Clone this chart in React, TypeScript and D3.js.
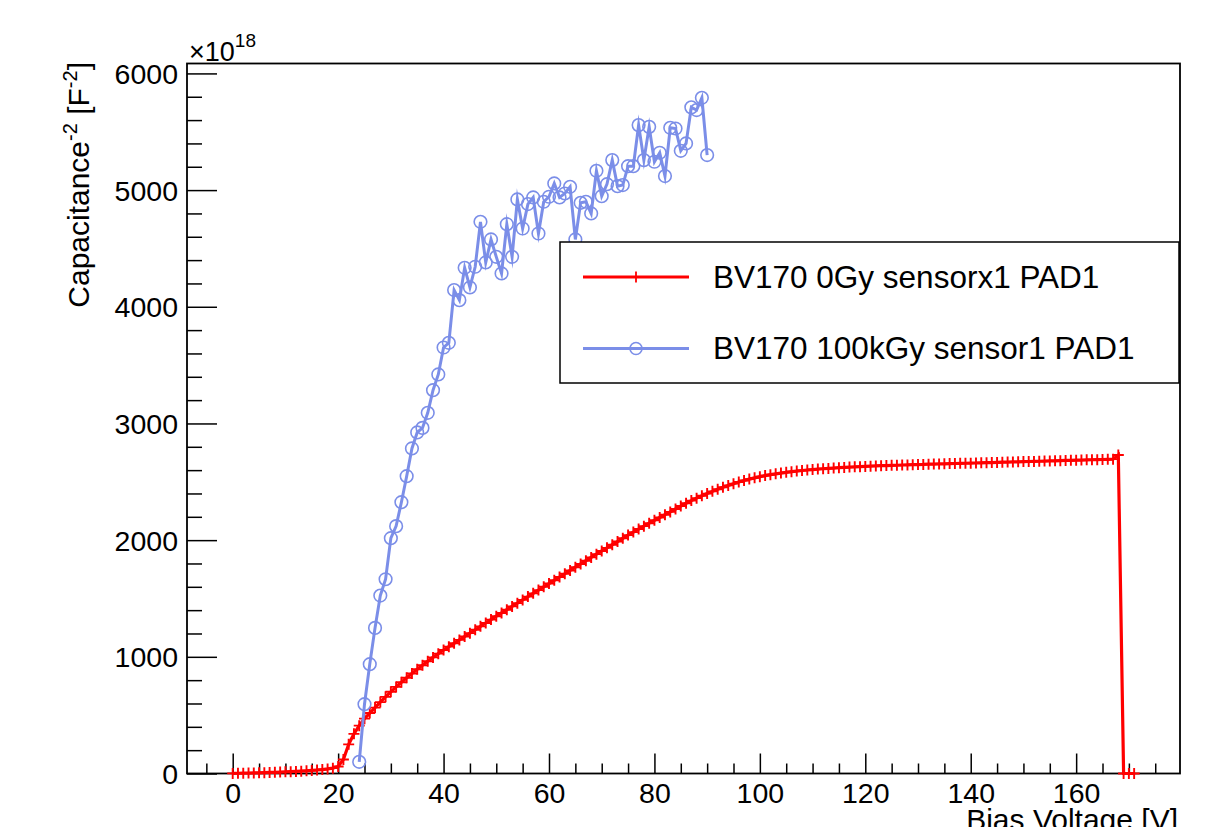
import React, { useEffect, useRef } from 'react';
import * as d3 from 'd3';

// red series: BV170 0Gy sensorx1 PAD1 (1 V steps)
const redVoltage = [
  0, 1, 2, 3, 4, 5, 6, 7, 8, 9, 10, 11, 12, 13, 14, 15, 16, 17, 18, 19,
  20, 21, 22, 23, 24, 25, 26, 27, 28, 29, 30, 31, 32, 33, 34, 35, 36, 37, 38, 39,
  40, 41, 42, 43, 44, 45, 46, 47, 48, 49, 50, 51, 52, 53, 54, 55, 56, 57, 58, 59,
  60, 61, 62, 63, 64, 65, 66, 67, 68, 69, 70, 71, 72, 73, 74, 75, 76, 77, 78, 79,
  80, 81, 82, 83, 84, 85, 86, 87, 88, 89, 90, 91, 92, 93, 94, 95, 96, 97, 98, 99,
  100, 101, 102, 103, 104, 105, 106, 107, 108, 109, 110, 111, 112, 113, 114, 115, 116, 117, 118, 119,
  120, 121, 122, 123, 124, 125, 126, 127, 128, 129, 130, 131, 132, 133, 134, 135, 136, 137, 138, 139,
  140, 141, 142, 143, 144, 145, 146, 147, 148, 149, 150, 151, 152, 153, 154, 155, 156, 157, 158, 159,
  160, 161, 162, 163, 164, 165, 166, 167, 168, 169, 170, 171,
];
const redValues = [
  1, 2, 3, 4, 5, 6, 7, 9, 10, 12, 14, 16, 18, 20, 23, 26, 30, 34, 39, 46,
  60, 120, 250, 340, 410, 470, 518, 565, 612, 657, 700, 742, 782, 820, 857, 893, 928, 962, 995, 1027,
  1058, 1087, 1116, 1145, 1174, 1203, 1232, 1261, 1290, 1319, 1348, 1376, 1404, 1432, 1460, 1488, 1516, 1544, 1572, 1600,
  1628, 1656, 1684, 1712, 1740, 1768, 1796, 1824, 1852, 1880, 1907, 1934, 1961, 1988, 2016, 2043, 2069, 2095, 2120, 2145,
  2170, 2194, 2218, 2242, 2267, 2292, 2316, 2339, 2360, 2380, 2399, 2418, 2436, 2453, 2469, 2484, 2498, 2511, 2523, 2534,
  2544, 2553, 2561, 2568, 2575, 2581, 2587, 2592, 2597, 2601, 2605, 2609, 2612, 2615, 2618, 2621, 2623, 2626, 2628, 2630,
  2632, 2634, 2636, 2638, 2639, 2641, 2642, 2644, 2645, 2647, 2648, 2649, 2651, 2652, 2653, 2654, 2656, 2657, 2658, 2659,
  2660, 2661, 2663, 2664, 2665, 2666, 2668, 2669, 2670, 2671, 2673, 2674, 2675, 2676, 2678, 2679, 2680, 2681, 2683, 2684,
  2685, 2686, 2688, 2689, 2690, 2691, 2693, 2694, 2730, 0, 0, 0,
];

// blue series: BV170 100kGy sensor1 PAD1
const blueVoltage = [
  24, 25, 26, 27, 28, 29, 30, 31, 32, 33, 34, 35, 36, 37, 38, 39, 40, 41, 42, 43,
  44, 45, 46, 47, 48, 49, 50, 51, 52, 53, 54, 55, 56, 57, 58, 59, 60, 61, 62, 63,
  64, 65, 66, 67, 68, 69, 70, 71, 72, 73, 74, 75, 76, 77, 78, 79, 80, 81, 82, 83,
  84, 85, 86, 87, 88, 89, 90,
];
const blueValues = [
  100, 594, 937, 1248, 1525, 1665, 2017, 2120, 2325, 2548, 2786, 2923, 2962, 3091, 3285, 3420, 3651, 3691, 4143, 4057,
  4334, 4166, 4343, 4728, 4380, 4577, 4428, 4286, 4708, 4428, 4920, 4671, 4880, 4937, 4628, 4900, 4943, 5057, 4937, 4971,
  5028, 4577, 4891, 4900, 4800, 5165, 4948, 5051, 5257, 5034, 5043, 5205, 5205, 5557, 5257, 5542, 5243, 5320, 5120, 5534,
  5528, 5337, 5400, 5709, 5686, 5791, 5300,
];

const xMajorTicks = [0, 20, 40, 60, 80, 100, 120, 140, 160];
const yMajorTicks = [0, 1000, 2000, 3000, 4000, 5000, 6000];
const legendLabels = ['BV170 0Gy sensorx1 PAD1', 'BV170 100kGy sensor1 PAD1'];

const RED = '#ff0000';
const BLUE = '#7b8ee8';
const FONT = '"Liberation Sans", Arial, Helvetica, sans-serif';

const App = () => {
  const svgRef = useRef<SVGSVGElement>(null);

  useEffect(() => {
    const svg = d3.select(svgRef.current);
    svg.selectAll('*').remove();

    const W = 1217;
    const H = 827;
    const left = 187, right = 1180, top = 63.5, bottom = 773.5;

    const x = d3.scaleLinear().domain([-8.67, 179.7]).range([left, right]);
    const y = d3.scaleLinear().domain([0, 6085]).range([bottom, top]);

    svg.attr('width', W).attr('height', H).attr('viewBox', `0 0 ${W} ${H}`);
    svg.append('rect').attr('width', W).attr('height', H).attr('fill', '#fff');

    // minor ticks
    const xMinor = d3.range(-5, 180, 5).filter(v => v % 20 !== 0);
    const yMinor = d3.range(200, 6085, 200).filter(v => v % 1000 !== 0);

    const xMinorAxis = svg.append('g')
      .attr('transform', `translate(0,${bottom})`)
      .call(d3.axisBottom(x).tickValues(xMinor).tickSize(-10).tickFormat(() => ''));
    const xAxis = svg.append('g')
      .attr('transform', `translate(0,${bottom})`)
      .call(d3.axisBottom(x).tickValues(xMajorTicks).tickSize(-20).tickPadding(9.5).tickFormat(d3.format('d')));
    const yMinorAxis = svg.append('g')
      .attr('transform', `translate(${left},0)`)
      .call(d3.axisLeft(y).tickValues(yMinor).tickSize(-15).tickFormat(() => ''));
    const yAxis = svg.append('g')
      .attr('transform', `translate(${left},0)`)
      .call(d3.axisLeft(y).tickValues(yMajorTicks).tickSize(-30).tickPadding(9).tickFormat(d3.format('d')));

    [xMinorAxis, xAxis, yMinorAxis, yAxis].forEach(g => {
      g.select('.domain').remove();
      g.selectAll('line').attr('stroke', '#000').attr('stroke-width', 1.5);
      g.selectAll('text').attr('font-family', FONT).attr('font-size', 28.5).attr('fill', '#000');
    });
    yAxis.selectAll('text').attr('dy', '0.35em');

    // frame
    svg.append('rect')
      .attr('x', left).attr('y', top)
      .attr('width', right - left).attr('height', bottom - top)
      .attr('fill', 'none').attr('stroke', '#000').attr('stroke-width', 1.8);

    // exponent label
    const expo = svg.append('text')
      .attr('x', 189).attr('y', 61)
      .attr('font-family', FONT).attr('font-size', 27).attr('fill', '#000');
    expo.append('tspan').text('\u00d710');
    expo.append('tspan').attr('dy', -14).attr('font-size', 19).text('18');

    // axis titles
    const yTitle = svg.append('text')
      .attr('transform', 'translate(89,62) rotate(-90)')
      .attr('text-anchor', 'end')
      .attr('font-family', FONT).attr('font-size', 30).attr('fill', '#000');
    yTitle.append('tspan').text('Capacitance');
    yTitle.append('tspan').attr('dy', -12).attr('font-size', 20).text('-2');
    yTitle.append('tspan').attr('dy', 12).text(' [F');
    yTitle.append('tspan').attr('dy', -12).attr('font-size', 20).text('-2');
    yTitle.append('tspan').attr('dy', 12).text(']');

    svg.append('text')
      .attr('x', 1178).attr('y', 829.5)
      .attr('text-anchor', 'end')
      .attr('font-family', FONT).attr('font-size', 30).attr('fill', '#000')
      .text('Bias Voltage [V]');

    // series
    const red = redVoltage.map((v, i) => ({ v, c: redValues[i] }));
    const blue = blueVoltage.map((v, i) => ({ v, c: blueValues[i] }));

    const line = d3.line<{ v: number; c: number }>()
      .x(d => x(d.v))
      .y(d => y(d.c));

    svg.append('path')
      .datum(red)
      .attr('d', line)
      .attr('fill', 'none')
      .attr('stroke', RED)
      .attr('stroke-width', 3.2);

    svg.append('g').selectAll('path')
      .data(red)
      .join('path')
      .attr('d', d => `M${x(d.v) - 5.5},${y(d.c)}h11M${x(d.v)},${y(d.c) - 5.5}v11`)
      .attr('stroke', RED)
      .attr('stroke-width', 1.9)
      .attr('fill', 'none');

    svg.append('path')
      .datum(blue)
      .attr('d', line)
      .attr('fill', 'none')
      .attr('stroke', BLUE)
      .attr('stroke-width', 3)
      .attr('stroke-linejoin', 'miter')
      .attr('stroke-miterlimit', 8);

    svg.append('g').selectAll('circle')
      .data(blue)
      .join('circle')
      .attr('cx', d => x(d.v))
      .attr('cy', d => y(d.c))
      .attr('r', 6.3)
      .attr('fill', 'none')
      .attr('stroke', BLUE)
      .attr('stroke-width', 1.6);

    // legend
    const lg = svg.append('g');
    lg.append('rect')
      .attr('x', 560).attr('y', 242)
      .attr('width', 619).attr('height', 141)
      .attr('fill', '#fff').attr('stroke', '#000').attr('stroke-width', 1.5);

    const rows = [
      { label: legendLabels[0], color: RED, yy: 277, marker: 'plus' },
      { label: legendLabels[1], color: BLUE, yy: 348.5, marker: 'circle' },
    ];
    rows.forEach(r => {
      lg.append('line')
        .attr('x1', 583).attr('x2', 689)
        .attr('y1', r.yy).attr('y2', r.yy)
        .attr('stroke', r.color).attr('stroke-width', 3);
      if (r.marker === 'plus') {
        lg.append('path')
          .attr('d', `M630.5,${r.yy}h11M636,${r.yy - 5.5}v11`)
          .attr('stroke', r.color).attr('stroke-width', 1.8);
      } else {
        lg.append('circle')
          .attr('cx', 636).attr('cy', r.yy).attr('r', 6)
          .attr('fill', 'none').attr('stroke', r.color).attr('stroke-width', 1.6);
      }
      lg.append('text')
        .attr('x', 713).attr('y', r.yy + 10.5)
        .attr('font-family', FONT).attr('font-size', 31.5).attr('fill', '#000')
        .text(r.label);
    });
  }, []);

  return (
    <div style={{ position: 'absolute', left: 0, top: 0, width: 1217, height: 827, overflow: 'hidden' }}>
      <svg ref={svgRef} />
    </div>
  );
};

export default App;
